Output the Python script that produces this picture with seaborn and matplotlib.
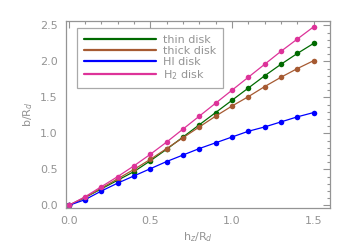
import numpy as np
import pandas as pd
import matplotlib
matplotlib.use("Agg")
import matplotlib.pyplot as plt
import seaborn as sns
from matplotlib.ticker import MultipleLocator
from matplotlib.lines import Line2D

# scale height h_z/R_d
hz = [0.0, 0.1, 0.2, 0.3, 0.4, 0.5, 0.6, 0.7, 0.8, 0.9, 1.0, 1.1, 1.2, 1.3, 1.4, 1.5]

# b/R_d for each disk component
thin_disk = [0.0, 0.11, 0.23, 0.35, 0.47, 0.62, 0.78, 0.95, 1.12, 1.29, 1.46, 1.63, 1.80, 1.96, 2.11, 2.25]
thick_disk = [0.0, 0.11, 0.24, 0.37, 0.50, 0.64, 0.79, 0.94, 1.09, 1.24, 1.38, 1.51, 1.65, 1.78, 1.90, 2.01]
hi_disk = [0.0, 0.08, 0.20, 0.31, 0.41, 0.51, 0.61, 0.70, 0.79, 0.87, 0.95, 1.03, 1.09, 1.16, 1.23, 1.29]
h2_disk = [0.0, 0.12, 0.26, 0.40, 0.55, 0.71, 0.88, 1.06, 1.24, 1.42, 1.60, 1.78, 1.96, 2.14, 2.31, 2.48]

labels = ["thin disk", "thick disk", "HI disk", "H$_2$ disk"]
colors = ["#006a00", "#a65a32", "#0000ff", "#dd3399"]

df = pd.DataFrame({
    "hz": hz * 4,
    "b": thin_disk + thick_disk + hi_disk + h2_disk,
    "disk": sum([[lab] * len(hz) for lab in labels], []),
})

sns.set_style("white")
plt.rcParams["font.family"] = ["DejaVu Sans"]
grey = "#949494"

fig, ax = plt.subplots(figsize=(3.5, 2.5), dpi=100)
fig.subplots_adjust(left=0.189, right=0.943, top=0.916, bottom=0.168)

sns.lineplot(data=df, x="hz", y="b", hue="disk", hue_order=labels,
             palette=colors, marker="o", markersize=4, markeredgewidth=0,
             linewidth=0.9, ax=ax, legend=False)

ax.set_xlim(-0.015, 1.6)
ax.set_ylim(-0.035, 2.56)
ax.xaxis.set_major_locator(MultipleLocator(0.5))
ax.xaxis.set_minor_locator(MultipleLocator(0.1))
ax.yaxis.set_major_locator(MultipleLocator(0.5))
ax.yaxis.set_minor_locator(MultipleLocator(0.1))
ax.xaxis.set_major_formatter(matplotlib.ticker.FormatStrFormatter("%.1f"))
ax.yaxis.set_major_formatter(matplotlib.ticker.FormatStrFormatter("%.1f"))

ax.tick_params(which="both", direction="in", top=True, right=True,
               color=grey, labelcolor=grey, labelsize=8, width=0.8)
ax.tick_params(which="major", length=5, pad=6)
ax.tick_params(which="minor", length=2.5)
for sp in ax.spines.values():
    sp.set_color(grey)
    sp.set_linewidth(0.9)

ax.set_xlabel("h$_z$/R$_d$", color=grey, fontsize=8, labelpad=3)
ax.set_ylabel("b/R$_d$", color=grey, fontsize=8)

handles = [Line2D([], [], color=c, linewidth=1.6) for c in colors]
leg = ax.legend(handles, labels, loc="upper left", bbox_to_anchor=(0.042, 0.963),
                borderaxespad=0, fontsize=8, handlelength=6.5, handletextpad=0.6,
                labelspacing=0.1, borderpad=0.6, fancybox=False, frameon=True)
leg.get_frame().set_edgecolor(grey)
leg.get_frame().set_linewidth(0.9)
for t in leg.get_texts():
    t.set_color(grey)

plt.savefig("out.png", dpi=100)
